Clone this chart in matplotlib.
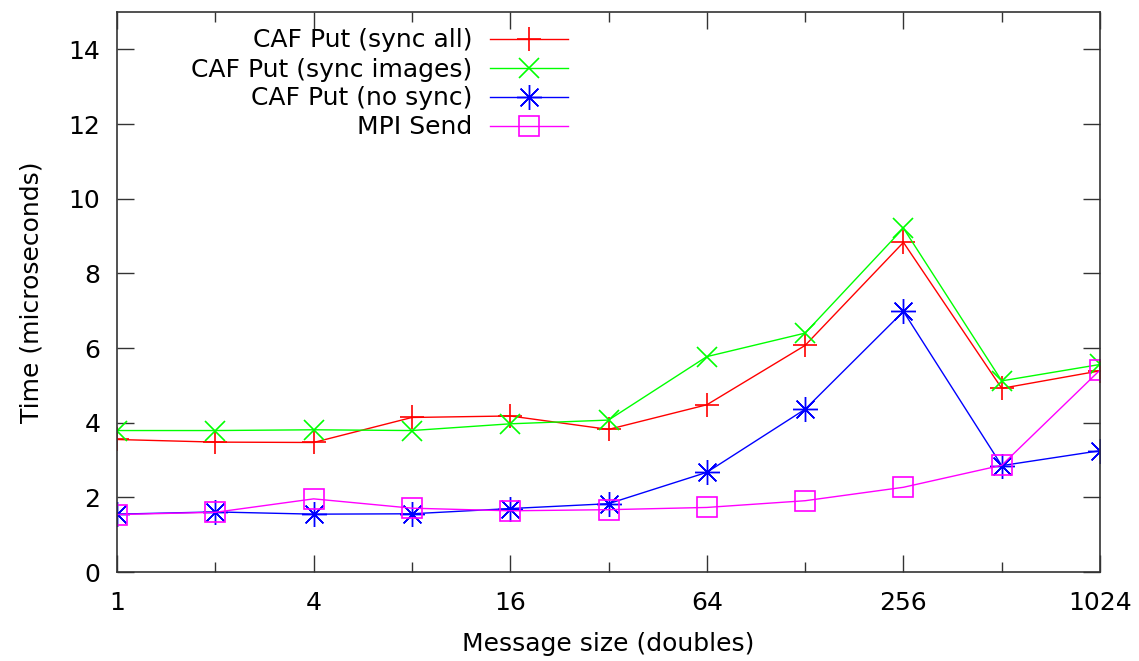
import matplotlib
matplotlib.use("Agg")
import matplotlib.pyplot as plt
from matplotlib.ticker import FixedLocator, NullFormatter

# message sizes (doubles)
sizes = [1, 2, 4, 8, 16, 32, 64, 128, 256, 512, 1024]

# time in microseconds
caf_sync_all = [3.55, 3.48, 3.47, 4.14, 4.18, 3.82, 4.48, 6.07, 8.83, 4.92, 5.39]
caf_sync_images = [3.79, 3.79, 3.81, 3.79, 3.97, 4.07, 5.77, 6.40, 9.21, 5.12, 5.56]
caf_no_sync = [1.55, 1.61, 1.55, 1.56, 1.70, 1.83, 2.67, 4.36, 6.98, 2.85, 3.25]
mpi_send = [1.54, 1.60, 1.96, 1.71, 1.64, 1.67, 1.73, 1.91, 2.27, 2.86, 5.41]

labels = ["CAF Put (sync all)", "CAF Put (sync images)", "CAF Put (no sync)", "MPI Send"]
xticks = [1, 4, 16, 64, 256, 1024]
xminor = [2, 8, 32, 128, 512]

plt.rcParams['font.family'] = ['DejaVu Sans']
fs = 18

fig = plt.figure(figsize=(11.39, 6.61), dpi=100)
ax = fig.add_axes([0.1027, 0.1346, 0.8631, 0.8472])

lw = 1.0
ax.plot(sizes, caf_sync_all, color='#ff0000', lw=lw, marker='+', ms=17, mew=1.2, label=labels[0])
ax.plot(sizes, caf_sync_images, color='#00ff00', lw=lw, marker='x', ms=15, mew=1.2, label=labels[1])
ax.plot(sizes, caf_no_sync, color='#0000ff', lw=lw, marker=(8, 2, 0), ms=18, mew=1.0, label=labels[2])
ax.plot(sizes, mpi_send, color='#ff00ff', lw=lw, marker='s', ms=14, mew=1.2, mfc='none', label=labels[3])

ax.set_xscale('log', base=2)
ax.set_xlim(1, 1024)
ax.set_ylim(0, 15)
ax.xaxis.set_major_locator(FixedLocator(xticks))
ax.xaxis.set_minor_locator(FixedLocator(xminor))
ax.xaxis.set_minor_formatter(NullFormatter())
ax.set_xticklabels([str(v) for v in xticks])
ax.set_yticks(range(0, 15, 2))

ax.tick_params(which='both', direction='in', top=True, right=True, labelsize=fs, width=1, color='#333333')
ax.tick_params(which='major', length=12, pad=14)
ax.tick_params(which='minor', length=7)
ax.tick_params(axis='y', pad=12)
for s in ax.spines.values():
    s.set_color('#333333')
    s.set_linewidth(1.2)

ax.set_xlabel("Message size (doubles)", fontsize=fs, labelpad=12)
ax.set_ylabel("Time (microseconds)", fontsize=fs, labelpad=18)

leg = ax.legend(loc='upper right', bbox_to_anchor=(580 / 1139, 1 - 16 / 661), bbox_transform=fig.transFigure,
                markerfirst=False, frameon=False, fontsize=fs, handlelength=3.1, handletextpad=0.7,
                labelspacing=0.2, borderpad=0)

fig.savefig("out.png", dpi=100)
